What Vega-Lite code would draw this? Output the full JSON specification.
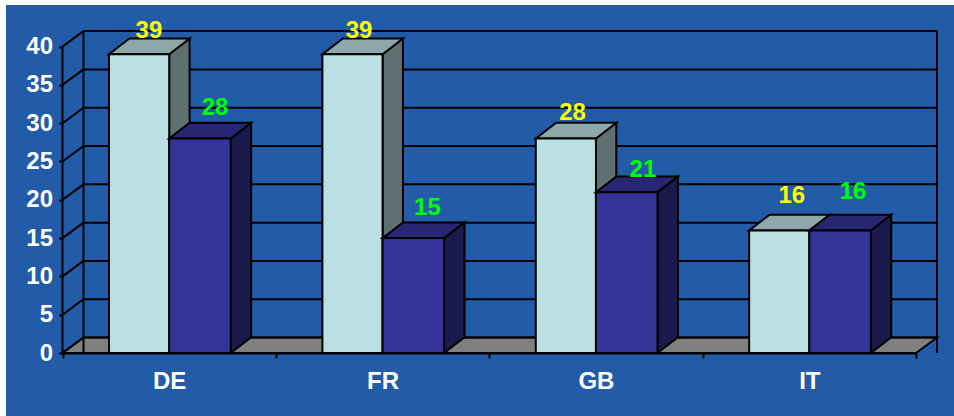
{
"$schema":"https://vega.github.io/schema/vega-lite/v6.json",
"width":948,"height":411,
"padding":{"left":6,"top":5,"right":0,"bottom":0},
"autosize":{"type":"none"},
"background":"#ffffff",
"view":{"fill":"#225CA8","stroke":null},
"config":{"font":"Liberation Sans"},
"datasets":{
"bars":[
{"country":"DE","series":"S1","value":39},{"country":"FR","series":"S1","value":39},{"country":"GB","series":"S1","value":28},{"country":"IT","series":"S1","value":16},
{"country":"DE","series":"S2","value":28},{"country":"FR","series":"S2","value":15},{"country":"GB","series":"S2","value":21},{"country":"IT","series":"S2","value":16}],
"ticks":[{"v":0},{"v":5},{"v":10},{"v":15},{"v":20},{"v":25},{"v":30},{"v":35},{"v":40}],
"edges":[{"pos":0,"low":0,"high":40},{"pos":0.0984,"low":0,"high":42.02},{"pos":4.0984,"low":0,"high":42.02}],
"floor":[{"pos":0,"lo":0,"hi":0},{"pos":0.0984,"lo":0,"hi":2.02},{"pos":4,"lo":0,"hi":2.02},{"pos":4.0984,"lo":2.02,"hi":2.02}]
},
"resolve":{"scale":{"x":"independent"},"axis":{"x":"independent"}},
"layer":[
{"data":{"name":"bars"},
 "mark":{"type":"tick","opacity":0},
 "encoding":{
  "x":{"field":"country","type":"nominal","sort":["DE","FR","GB","IT"],
   "scale":{"type":"band","range":[56.5,910],"paddingInner":0,"paddingOuter":0},
   "axis":{"orient":"bottom","offset":-63,"title":null,"tickBand":"extent","labelAngle":0,"labelFontSize":24,"labelFontWeight":"bold","labelColor":"#ffffff","labelFont":"Liberation Sans","labelPadding":11,"tickSize":5,"tickColor":"#000000","tickWidth":2,"domainColor":"#000000","domainWidth":2,"grid":false}}}},
{"layer":[
 {"data":{"name":"floor"},
  "mark":{"type":"area","color":"#808080","stroke":"#000000","strokeWidth":2,"orient":"vertical"},
  "encoding":{
   "x":{"field":"pos","type":"quantitative","axis":null,"scale":{"domain":[-0.2648,4.178],"nice":false,"zero":false}},
   "y":{"field":"lo","type":"quantitative","stack":null,"scale":{"domain":[-8.224,45.43],"nice":false,"zero":false},
    "axis":{"title":null,"orient":"left","offset":-56.5,"values":[0,5,10,15,20,25,30,35,40],"domain":false,"grid":false,"labelFontSize":24,"labelFontWeight":"bold","labelColor":"#ffffff","labelFont":"Liberation Sans","labelPadding":6,"tickSize":4,"tickColor":"#000000","tickWidth":2}},
   "y2":{"field":"hi"}}},
 {"data":{"name":"ticks"},
  "transform":[{"calculate":"datum.v+2.02","as":"vb"}],
  "mark":{"type":"rule","color":"#000000","strokeWidth":2},
  "encoding":{"x":{"datum":0},"x2":{"datum":0.0984},"y":{"field":"v","type":"quantitative"},"y2":{"field":"vb"}}},
 {"data":{"name":"ticks"},
  "transform":[{"calculate":"datum.v+2.02","as":"vb"}],
  "mark":{"type":"rule","color":"#000000","strokeWidth":2},
  "encoding":{"x":{"datum":0.0984},"x2":{"datum":4.0984},"y":{"field":"vb","type":"quantitative"}}},
 {"data":{"name":"edges"},
  "mark":{"type":"rule","color":"#000000","strokeWidth":2},
  "encoding":{"x":{"field":"pos","type":"quantitative"},"y":{"field":"low","type":"quantitative"},"y2":{"field":"high"}}},
 {"data":{"name":"bars"},
  "transform":[
   {"filter":"datum.series=='S1'"},
   {"calculate":"indexof(['DE','FR','GB','IT'],datum.country)","as":"i"},
   {"calculate":"datum.i+0.218","as":"left"},{"calculate":"datum.i+0.5","as":"right"},
   {"calculate":"[0,1]","as":"stops"},{"flatten":["stops"],"as":["stop"]},
   {"calculate":"datum.right+datum.stop*0.0955","as":"px"},
   {"calculate":"datum.stop*2.05","as":"lo"},{"calculate":"datum.value+datum.stop*2.05","as":"hi"}],
  "mark":{"type":"area","color":"#5E7071","stroke":"#000000","strokeWidth":2,"orient":"vertical"},
  "encoding":{"x":{"field":"px","type":"quantitative"},"y":{"field":"lo","type":"quantitative","stack":null},"y2":{"field":"hi"},"detail":{"field":"country"}}},
 {"data":{"name":"bars"},
  "transform":[
   {"filter":"datum.series=='S1'"},
   {"calculate":"indexof(['DE','FR','GB','IT'],datum.country)","as":"i"},
   {"calculate":"datum.i+0.218","as":"left"},{"calculate":"datum.i+0.5","as":"right"},
   {"calculate":"[0,1,2,3]","as":"stops"},{"flatten":["stops"],"as":["stop"]},
   {"calculate":"[datum.left,datum.left+0.0955,datum.right,datum.right+0.0955][datum.stop]","as":"px"},
   {"calculate":"datum.stop==3?datum.value+2.05:datum.value","as":"lo"},{"calculate":"datum.stop==0?datum.value:datum.value+2.05","as":"hi"}],
  "mark":{"type":"area","color":"#8DA8AA","stroke":"#000000","strokeWidth":2,"orient":"vertical"},
  "encoding":{"x":{"field":"px","type":"quantitative"},"y":{"field":"lo","type":"quantitative","stack":null},"y2":{"field":"hi"},"detail":{"field":"country"}}},
 {"data":{"name":"bars"},
  "transform":[
   {"filter":"datum.series=='S1'"},
   {"calculate":"indexof(['DE','FR','GB','IT'],datum.country)","as":"i"},
   {"calculate":"datum.i+0.218","as":"left"},{"calculate":"datum.i+0.5","as":"right"}],
  "mark":{"type":"rect","color":"#BBE0E3","stroke":"#000000","strokeWidth":2},
  "encoding":{"x":{"field":"left","type":"quantitative"},"x2":{"field":"right"},"y":{"field":"value","type":"quantitative"},"y2":{"datum":0}}},
 {"data":{"name":"bars"},
  "transform":[
   {"filter":"datum.series=='S2'"},
   {"calculate":"indexof(['DE','FR','GB','IT'],datum.country)","as":"i"},
   {"calculate":"datum.i+0.5","as":"left"},{"calculate":"datum.i+0.7885","as":"right"},
   {"calculate":"[0,1]","as":"stops"},{"flatten":["stops"],"as":["stop"]},
   {"calculate":"datum.right+datum.stop*0.0955","as":"px"},
   {"calculate":"datum.stop*2.05","as":"lo"},{"calculate":"datum.value+datum.stop*2.05","as":"hi"}],
  "mark":{"type":"area","color":"#1A1A4D","stroke":"#000000","strokeWidth":2,"orient":"vertical"},
  "encoding":{"x":{"field":"px","type":"quantitative"},"y":{"field":"lo","type":"quantitative","stack":null},"y2":{"field":"hi"},"detail":{"field":"country"}}},
 {"data":{"name":"bars"},
  "transform":[
   {"filter":"datum.series=='S2'"},
   {"calculate":"indexof(['DE','FR','GB','IT'],datum.country)","as":"i"},
   {"calculate":"datum.i+0.5","as":"left"},{"calculate":"datum.i+0.7885","as":"right"},
   {"calculate":"[0,1,2,3]","as":"stops"},{"flatten":["stops"],"as":["stop"]},
   {"calculate":"[datum.left,datum.left+0.0955,datum.right,datum.right+0.0955][datum.stop]","as":"px"},
   {"calculate":"datum.stop==3?datum.value+2.05:datum.value","as":"lo"},{"calculate":"datum.stop==0?datum.value:datum.value+2.05","as":"hi"}],
  "mark":{"type":"area","color":"#262673","stroke":"#000000","strokeWidth":2,"orient":"vertical"},
  "encoding":{"x":{"field":"px","type":"quantitative"},"y":{"field":"lo","type":"quantitative","stack":null},"y2":{"field":"hi"},"detail":{"field":"country"}}},
 {"data":{"name":"bars"},
  "transform":[
   {"filter":"datum.series=='S2'"},
   {"calculate":"indexof(['DE','FR','GB','IT'],datum.country)","as":"i"},
   {"calculate":"datum.i+0.5","as":"left"},{"calculate":"datum.i+0.7885","as":"right"}],
  "mark":{"type":"rect","color":"#333399","stroke":"#000000","strokeWidth":2},
  "encoding":{"x":{"field":"left","type":"quantitative"},"x2":{"field":"right"},"y":{"field":"value","type":"quantitative"},"y2":{"datum":0}}},
 {"data":{"name":"bars"},
  "transform":[
   {"calculate":"datum.country+datum.series","as":"key"},
   {"calculate":"indexof(['DE','FR','GB','IT'],datum.country)","as":"i"},
   {"calculate":"datum.i+{'DES1':0.405,'FRS1':0.39,'GBS1':0.39,'ITS1':0.418,'DES2':0.715,'FRS2':0.71,'GBS2':0.72,'ITS2':0.705}[datum.key]","as":"lx"},
   {"calculate":"datum.value+{'DES1':3.0,'FRS1':3.0,'GBS1':3.3,'ITS1':4.45,'DES2':3.95,'FRS2':3.95,'GBS2':2.95,'ITS2':5.05}[datum.key]","as":"ly"}],
  "mark":{"type":"text","fontSize":24,"fontWeight":"bold","font":"Liberation Sans","baseline":"middle","align":"center"},
  "encoding":{"x":{"field":"lx","type":"quantitative"},"y":{"field":"ly","type":"quantitative"},"text":{"field":"value","type":"quantitative"},
   "color":{"field":"series","type":"nominal","legend":null,"scale":{"domain":["S1","S2"],"range":["#FFFF00","#00FF00"]}}}}
]}
]
}
